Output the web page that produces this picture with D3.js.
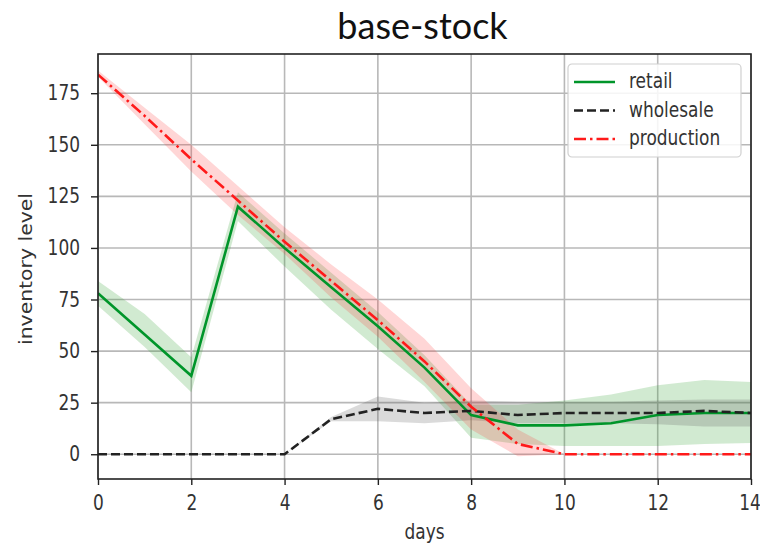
<!DOCTYPE html>
<html><head><meta charset="utf-8">
<script src="https://cdn.jsdelivr.net/npm/d3@7/dist/d3.min.js"></script>
<style>body{margin:0;background:#fff}svg{display:block}</style>
</head><body>
<svg id="chart" width="760" height="543"></svg>
<script>
const title = "base-stock";
const xLabel = "days";
const yLabel = "inventory level";
const days = [0,1,2,3,4,5,6,7,8,9,10,11,12,13,14];
const retail     = [78, 58, 38, 120, 100, 81, 62, 42, 19, 14, 14, 15, 19, 20, 20];
const retailLo   = [72, 52, 30, 113, 91, 70, 51, 33, 8, 5, 4, 4, 4, 5, 5.5];
const retailHi   = [84, 68, 47, 127, 107, 88, 69, 48, 24, 24, 26, 29, 33.5, 36, 35];
const wholesale  = [0, 0, 0, 0, 0, 17, 22, 20, 21, 19, 20, 20, 20, 21, 20];
const wholeLo    = [0, 0, 0, 0, 0, 16, 16, 15, 16.5, 15, 15, 15, 14.5, 13.5, 13.5];
const wholeHi    = [0, 0, 0, 0, 0, 18, 28, 25, 26, 25.5, 25.5, 25.5, 26, 26.5, 26.5];
const production = [184, 164, 143, 123, 103, 84, 65, 45, 23, 5, 0, 0, 0, 0, 0];
const prodLo     = [183, 160, 137, 116, 97, 76, 57, 35, 12, -1, 0, 0, 0, 0, 0];
const prodHi     = [186, 168, 150, 130, 110, 92, 75, 56, 32, 12, 0, 0, 0, 0, 0];
const xTicks = [0,2,4,6,8,10,12,14];
const yTicks = [0,25,50,75,100,125,150,175];
const seriesNames = ["retail","wholesale","production"];
const seriesColors = ["#00952a","#222222","#ff1a1a"];
const bandColors = ["#2ca02c","#555555","#ff3030"];

const svg = d3.select("#chart");
const m = {l:98, r:9, t:54, b:64};
const W = 760, H = 543;
const SY = 1.2; // vertical stretch of the reference's text
const x = d3.scaleLinear().domain([0,14]).range([m.l, W-m.r]);
const y = d3.scaleLinear().domain([-12,194]).range([H-m.b, m.t]);

// grid
const g = svg.append("g");
g.selectAll(".gx").data(xTicks).join("line")
  .attr("x1",d=>x(d)).attr("x2",d=>x(d)).attr("y1",m.t).attr("y2",H-m.b)
  .attr("stroke","#b8b8b8").attr("stroke-width",1.6);
g.selectAll(".gy").data(yTicks).join("line")
  .attr("y1",d=>y(d)).attr("y2",d=>y(d)).attr("x1",m.l).attr("x2",W-m.r)
  .attr("stroke","#b8b8b8").attr("stroke-width",1.6);

svg.append("defs").append("clipPath").attr("id","clip")
  .append("rect").attr("x",m.l).attr("y",m.t).attr("width",W-m.l-m.r).attr("height",H-m.t-m.b);
const plot = svg.append("g").attr("clip-path","url(#clip)");

const area = (lo,hi) => d3.area().x((d,i)=>x(days[i])).y0((d,i)=>y(lo[i])).y1((d,i)=>y(hi[i]))(days);
const line = vals => d3.line().x((d,i)=>x(days[i])).y((d,i)=>y(vals[i]))(days);

plot.append("path").attr("d",area(retailLo,retailHi)).attr("fill",bandColors[0]).attr("opacity",0.22);
plot.append("path").attr("d",area(wholeLo,wholeHi)).attr("fill",bandColors[1]).attr("opacity",0.22);
plot.append("path").attr("d",area(prodLo,prodHi)).attr("fill",bandColors[2]).attr("opacity",0.2);

plot.append("path").attr("d",line(retail)).attr("fill","none").attr("stroke",seriesColors[0]).attr("stroke-width",2.6);
plot.append("path").attr("d",line(wholesale)).attr("fill","none").attr("stroke",seriesColors[1]).attr("stroke-width",2.6).attr("stroke-dasharray","9,4");
plot.append("path").attr("d",line(production)).attr("fill","none").attr("stroke",seriesColors[2]).attr("stroke-width",2.6).attr("stroke-dasharray","12,4,2.5,4");

// axes
const font = "DejaVu Sans, sans-serif";
const xa = svg.append("g").attr("transform",`translate(0,${H-m.b})`)
  .call(d3.axisBottom(x).tickValues(xTicks).tickSize(6).tickPadding(7.5).tickFormat(d3.format("d")));
const ya = svg.append("g").attr("transform",`translate(${m.l},0)`)
  .call(d3.axisLeft(y).tickValues(yTicks).tickSize(7).tickPadding(11).tickFormat(d3.format("d")));
[xa,ya].forEach(a=>{
  a.select(".domain").remove();
  a.selectAll("line").attr("stroke","#222").attr("stroke-width",1.4);
  a.selectAll("text").attr("font-family",font).attr("font-size",17).attr("fill","#333")
    .attr("transform",`scale(1,${SY})`);
});
xa.selectAll("text").filter(d=>d===14).attr("dx",-1.5);
// spines
svg.append("rect").attr("x",m.l).attr("y",m.t).attr("width",W-m.l-m.r).attr("height",H-m.t-m.b)
  .attr("fill","none").attr("stroke","#222").attr("stroke-width",1.6);

svg.append("text").attr("transform",`translate(${x(7)},539) scale(1,${SY})`).attr("text-anchor","middle")
  .attr("font-family",font).attr("font-size",17).attr("fill","#333").text(xLabel);
svg.append("text").attr("transform",`translate(32,269) rotate(-90) scale(${SY},1)`).attr("text-anchor","middle")
  .attr("font-family",font).attr("font-size",17).attr("fill","#333").text(yLabel);
svg.append("text").attr("x",x(7)-2).attr("y",39).attr("text-anchor","middle")
  .attr("font-family","Lato, 'Open Sans', sans-serif").attr("font-size",36).attr("fill","#111").text(title);

// legend
const lg = svg.append("g").attr("transform","translate(568,64)");
lg.append("rect").attr("width",173).attr("height",93).attr("rx",4)
  .attr("fill","#fff").attr("fill-opacity",0.85).attr("stroke","#d0d0d0").attr("stroke-width",1.2);
const dashes = [null,"9,4","12,4,2.5,4"];
seriesNames.forEach((n,i)=>{
  const yy = 18 + i*28.5;
  lg.append("line").attr("x1",6).attr("x2",47).attr("y1",yy).attr("y2",yy)
    .attr("stroke",seriesColors[i]).attr("stroke-width",2.6).attr("stroke-dasharray",dashes[i]);
  lg.append("text").attr("transform",`translate(61,${yy+6}) scale(1,${SY})`).attr("font-family",font).attr("font-size",17)
    .attr("fill","#333").text(n);
});
</script>
</body></html>
